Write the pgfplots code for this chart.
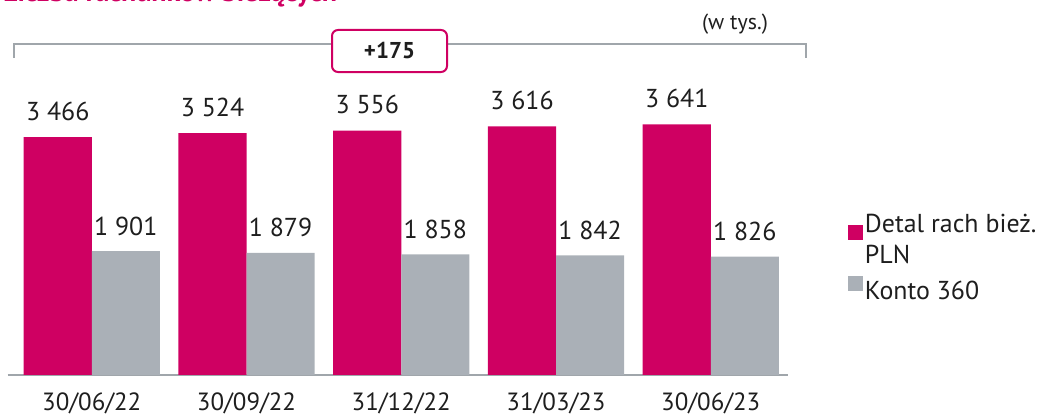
\documentclass[border=0pt]{standalone}
\usepackage{fontspec}
\setmainfont{PT Sans}
\usepackage{pgfplots}
\usepackage{pgfplotstable}
\pgfplotsset{compat=1.18}

\definecolor{brandpink}{RGB}{207,0,98}
\definecolor{brandgrey}{RGB}{170,176,183}
\definecolor{rulegrey}{RGB}{160,166,171}
\definecolor{txt}{RGB}{30,30,30}

% Number of current accounts (thousands)
\pgfplotstableread{
x detal konto
0 3466 1901
1 3524 1879
2 3556 1858
3 3616 1842
4 3641 1826
}\accounts

\begin{document}
\begin{tikzpicture}[x=1bp,y=1bp]
\begin{axis}[
  at={(5,55)}, anchor=south west,
  scale only axis, width=780.4bp, height=313bp,
  xmin=-0.543, xmax=4.5, ymin=200, ymax=4500,
  axis x line=bottom, axis y line=none,
  axis line style={rulegrey, line width=2bp, -},
  xtick=data,
  xticklabels={30/06/22,30/09/22,31/12/22,31/03/23,30/06/23},
  xtick style={draw=none},
  x tick label style={font=\fontsize{25}{30}\selectfont, text=txt, anchor=base,
    inner sep=0pt, yshift=-33bp},
  ytick=\empty,
  clip=false,
  /pgf/number format/assume math mode=true,
  /pgf/number format/1000 sep={\ },
  nodes near coords style={font=\fontsize{26}{31}\selectfont, text=txt, anchor=base, inner sep=0pt},
  legend style={at={(1.0764,0.5208)}, anchor=north west, draw=none, fill=none,
    font=\fontsize{26}{29}\selectfont, text=txt,
    cells={anchor=west, align=left}, row sep=9bp, inner sep=0pt,
    /tikz/every even column/.style={column sep=6bp}},
]
\addplot[ybar, bar width=0.44, bar shift=-0.22, fill=brandpink, draw=none,
  nodes near coords, every node near coord/.append style={yshift=17bp, xshift=-34bp},
  legend image code/.code={\fill[brandpink] (0bp,0bp) rectangle (15bp,15bp);}]
  table[x=x, y=detal] {\accounts};
\addlegendentry{Detal rach bież.\\[2bp]PLN}
\addplot[ybar, bar width=0.44, bar shift=0.22, fill=brandgrey, draw=none,
  nodes near coords, every node near coord/.append style={yshift=16bp, xshift=34bp},
  legend image code/.code={\fill[brandgrey] (0bp,0bp) rectangle (15bp,15bp);}]
  table[x=x, y=konto] {\accounts};
\addlegendentry{Konto 360}
\end{axis}

% bracket over all quarters with the total change
\draw[rulegrey, line width=1.5bp] (14,357) -- (14,371) -- (806,371) -- (806,357);
\node[draw=brandpink, line width=2bp, rounded corners=6bp, fill=white,
  minimum width=115bp, minimum height=42bp, inner sep=0pt, text=txt]
  at (389.5,364) {\fontsize{23}{27}\selectfont\bfseries +175};
\node[anchor=base, inner sep=0pt, text=txt] at (735,386) {\fontsize{22}{26}\selectfont (w tys.)};
\node[anchor=base west, inner sep=0pt, text=brandpink] at (3,413)
  {\fontsize{28}{32}\selectfont\bfseries Liczba rachunków bieżących};

\pgfresetboundingbox
\path[use as bounding box] (0,0) rectangle (1061,415);
\end{tikzpicture}
\end{document}
